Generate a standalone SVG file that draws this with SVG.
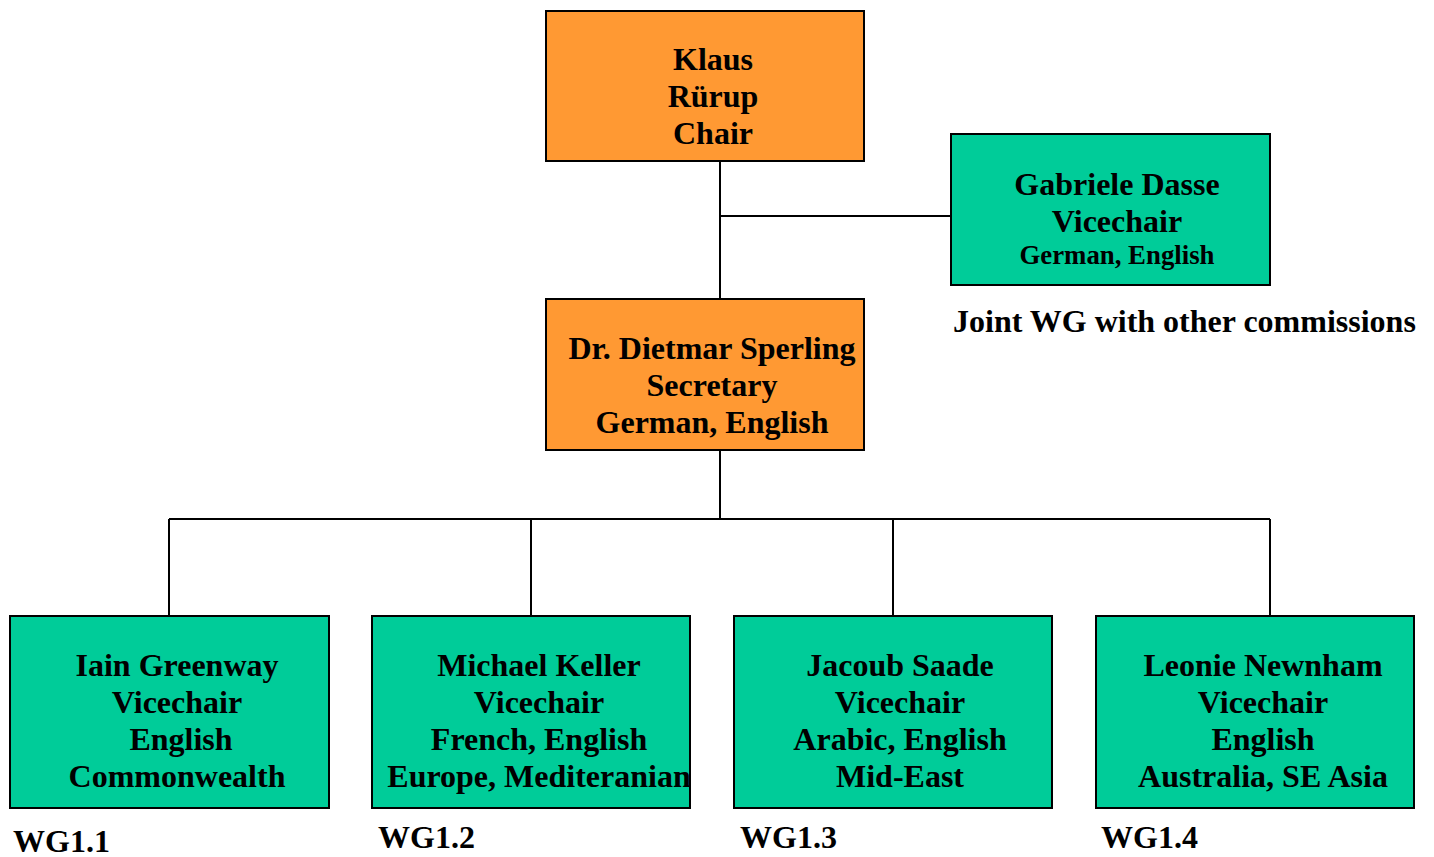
<svg xmlns="http://www.w3.org/2000/svg" width="1434" height="857" viewBox="0 0 1434 857">
<style>
.box{stroke:#000;stroke-width:2}
.or{fill:#FF9933}
.gr{fill:#00CC99}
text{font-family:"Liberation Serif","Times New Roman",serif;font-weight:bold;font-size:32px;fill:#000}
.c{text-anchor:middle}
.s{font-size:26.8px}
.ln{stroke:#000;stroke-width:2;fill:none}
</style>
<rect width="1434" height="857" fill="#fff"/>
<g id="connectors">
<path class="ln" d="M720 161V299M720 216H951M720 450V519M169 519H1270M169 519V616M531 519V616M893 519V616M1270 519V616"/>
</g>
<g id="chair">
<rect class="box or" x="546" y="11" width="318" height="150"/>
<text class="c" x="713" y="70">Klaus</text>
<text class="c" x="713" y="107">Rürup</text>
<text class="c" x="713" y="144">Chair</text>
</g>
<g id="dasse">
<rect class="box gr" x="951" y="134" width="319" height="151"/>
<text class="c" x="1117" y="195">Gabriele Dasse</text>
<text class="c" x="1117" y="232">Vicechair</text>
<text class="c s" x="1117" y="264">German, English</text>
</g>
<g id="joint">
<text x="953" y="332">Joint WG with other commissions</text>
</g>
<g id="sperling">
<rect class="box or" x="546" y="299" width="318" height="151"/>
<text class="c" x="712" y="359">Dr. Dietmar Sperling</text>
<text class="c" x="712" y="396">Secretary</text>
<text class="c" x="712" y="433">German, English</text>
</g>
<g id="wg11">
<rect class="box gr" x="10" y="616" width="319" height="192"/>
<text class="c" x="177" y="676">Iain Greenway</text>
<text class="c" x="177" y="713">Vicechair</text>
<text class="c" x="181" y="750">English</text>
<text class="c" x="177" y="787">Commonwealth</text>
<text x="13" y="852">WG1.1</text>
</g>
<g id="wg12">
<rect class="box gr" x="372" y="616" width="318" height="192"/>
<text class="c" x="539" y="676">Michael Keller</text>
<text class="c" x="539" y="713">Vicechair</text>
<text class="c" x="539" y="750">French, English</text>
<text class="c" x="539" y="787">Europe, Mediteranian</text>
<text x="378" y="848">WG1.2</text>
</g>
<g id="wg13">
<rect class="box gr" x="734" y="616" width="318" height="192"/>
<text class="c" x="900" y="676">Jacoub Saade</text>
<text class="c" x="900" y="713">Vicechair</text>
<text class="c" x="900" y="750">Arabic, English</text>
<text class="c" x="900" y="787">Mid-East</text>
<text x="740" y="848">WG1.3</text>
</g>
<g id="wg14">
<rect class="box gr" x="1096" y="616" width="318" height="192"/>
<text class="c" x="1263" y="676">Leonie Newnham</text>
<text class="c" x="1263" y="713">Vicechair</text>
<text class="c" x="1263" y="750">English</text>
<text class="c" x="1263" y="787">Australia, SE Asia</text>
<text x="1101" y="848">WG1.4</text>
</g>
</svg>
